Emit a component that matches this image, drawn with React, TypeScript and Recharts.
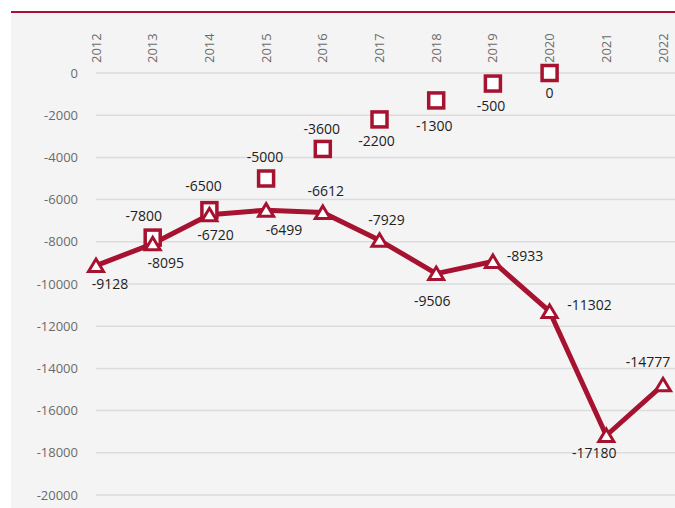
// Actual vs target trend: thick line with triangle markers for actual values,
// square markers for the planned path. Years run along a top axis.

import { CartesianGrid, Line, LineChart, XAxis, YAxis } from "recharts";

const years = ["2012", "2013", "2014", "2015", "2016", "2017", "2018", "2019", "2020", "2021", "2022"];
const actual = [-9128, -8095, -6720, -6499, -6612, -7929, -9506, -8933, -11302, -17180, -14777];
const target: Array<number | null> = [null, -7800, -6500, -5000, -3600, -2200, -1300, -500, 0, null, null];
const yTicks = [0, -2000, -4000, -6000, -8000, -10000, -12000, -14000, -16000, -18000, -20000];

// where each value label sits relative to its marker (dx, dy)
const actualLabelAt: Array<[number, number]> = [
  [14, 18], [13, 19], [6, 20], [18, 20], [3, -21], [7, -20], [-4, 28], [32, -5], [40, -6], [-12, 18], [-15, -23],
];
const targetLabelAt: Array<[number, number] | null> = [
  null, [-9, -21], [-6, -24], [-1, -21], [-1, -20], [-3, 22], [-2, 26], [-2, 23], [0, 20], null, null,
];

const RED = "#a6122f";
const FONT = "'Open Sans', 'Noto Sans', sans-serif";

const rows = years.map((year, i) => ({ year, actual: actual[i], target: target[i] }));

function YearTick({ x, y, payload }: any) {
  return (
    <text
      x={x}
      y={y}
      transform={`rotate(-90 ${x} ${y})`}
      textAnchor="start"
      dy="0.35em"
      fontSize={13}
      fontFamily={FONT}
      fill="#6b6b6b"
    >
      {payload.value}
    </text>
  );
}

function ValueText({ x, y, value }: { x: number; y: number; value: number }) {
  return (
    <text x={x} y={y} dy="0.35em" textAnchor="middle" fontSize={14} fontFamily={FONT} fill="#222">
      {value}
    </text>
  );
}

function TriangleDot(p: any) {
  const { cx, cy, index, value } = p;
  if (cx == null || cy == null) return <g key={`t${index}`} />;
  const off = actualLabelAt[index] ?? [0, 18];
  return (
    <g key={`t${index}`}>
      <path
        d={`M${cx},${cy - 6.5} L${cx + 7.5},${cy + 6} L${cx - 7.5},${cy + 6} Z`}
        fill="#fff"
        stroke={RED}
        strokeWidth={3}
        strokeLinejoin="miter"
      />
      <ValueText x={cx + off[0]} y={cy + off[1]} value={value} />
    </g>
  );
}

function SquareDot(p: any) {
  const { cx, cy, index, value } = p;
  if (cx == null || cy == null || value == null) return <g key={`s${index}`} />;
  const off = targetLabelAt[index] ?? [0, 20];
  return (
    <g key={`s${index}`}>
      <rect x={cx - 7.5} y={cy - 7.5} width={15} height={15} fill="#fff" stroke={RED} strokeWidth={3.5} />
      <ValueText x={cx + off[0]} y={cy + off[1]} value={value} />
    </g>
  );
}

export default function App() {
  return (
    <div style={{ position: "absolute", left: 0, top: 0, width: 675, height: 508, background: "#fff", overflow: "hidden" }}>
      <div style={{ position: "absolute", left: 11, top: 13, right: 0, bottom: 0, background: "#f4f4f4" }} />
      <div style={{ position: "absolute", left: 11, top: 11, right: 0, height: 2, background: RED }} />
      <div style={{ position: "absolute", left: 0, top: 0 }}>
        <LineChart width={675} height={508} data={rows} margin={{ top: 0, right: 0, bottom: 13, left: 0 }}>
          <CartesianGrid vertical={false} stroke="#dcdcdc" strokeWidth={1.5} />
          <XAxis
            dataKey="year"
            orientation="top"
            height={73}
            axisLine={false}
            tickLine={false}
            tickSize={0}
            tickMargin={10}
            interval={0}
            padding={{ left: 0, right: 12 }}
            tick={<YearTick />}
          />
          <YAxis
            width={96}
            domain={[-20000, 0]}
            ticks={yTicks}
            interval={0}
            axisLine={false}
            tickLine={false}
            tickSize={0}
            tickMargin={18}
            tick={{ fontSize: 13, fontFamily: FONT, fill: "#6b6b6b" }}
          />
          <Line
            dataKey="target"
            stroke="none"
            strokeWidth={0}
            connectNulls={false}
            dot={SquareDot}
            activeDot={false}
            isAnimationActive={false}
          />
          <Line
            dataKey="actual"
            stroke={RED}
            strokeWidth={5}
            strokeLinejoin="round"
            dot={TriangleDot}
            activeDot={false}
            isAnimationActive={false}
          />
        </LineChart>
      </div>
    </div>
  );
}
